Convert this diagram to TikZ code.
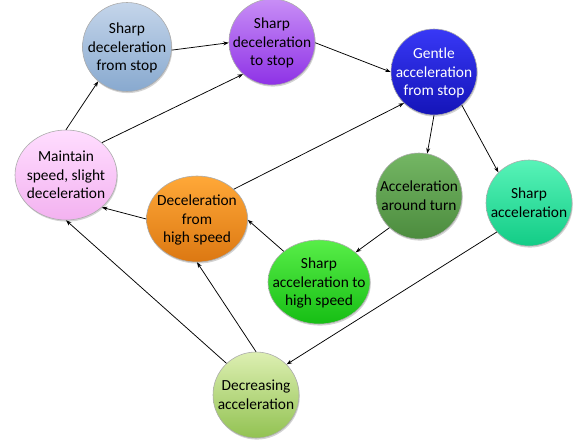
\documentclass[tikz,border=0pt]{standalone}
\usepackage{fontspec}
\setmainfont{Carlito}
\usetikzlibrary{shapes.geometric,arrows.meta,shadows}
\definecolor{sfTop}{HTML}{C4D5EA}\definecolor{sfBot}{HTML}{88A9CF}
\definecolor{stTop}{HTML}{C88EF6}\definecolor{stBot}{HTML}{8E32E6}
\definecolor{gaTop}{HTML}{3838F6}\definecolor{gaBot}{HTML}{1414B8}
\definecolor{msTop}{HTML}{FFDDFF}\definecolor{msBot}{HTML}{F3B2F0}
\definecolor{dhTop}{HTML}{FFA838}\definecolor{dhBot}{HTML}{DC7812}
\definecolor{atTop}{HTML}{74B664}\definecolor{atBot}{HTML}{4C8C3E}
\definecolor{saTop}{HTML}{58F3B8}\definecolor{saBot}{HTML}{12CC86}
\definecolor{shTop}{HTML}{58EE48}\definecolor{shBot}{HTML}{16BE14}
\definecolor{daTop}{HTML}{DDEFB2}\definecolor{daBot}{HTML}{92C252}
\newcommand{\nodetxt}[1]{\smash{\makebox[0pt]{\raisebox{-5pt}{\begin{tabular}[c]{@{}c@{}}#1\end{tabular}}}}}
\tikzset{
  state/.style={ellipse, draw=gray!65, line width=0.6pt, inner sep=0pt,
    font=\fontsize{15.4}{18.5}\selectfont,
    shading=axis, shading angle=0,
    drop shadow={shadow xshift=0.8pt, shadow yshift=-1.6pt, opacity=0.35}},
  conn/.style={-{Stealth[length=5.5pt,width=4pt]}, line width=0.75pt, black}
}
\begin{document}
\begin{tikzpicture}[x=1pt,y=-1pt]
\useasboundingbox (0,0) rectangle (579,442);
\node[state, minimum width=89pt, minimum height=89pt, top color=sfTop, bottom color=sfBot] (sf) at (127,47) {\nodetxt{Sharp\\deceleration\\from stop}};
\node[state, minimum width=86pt, minimum height=86pt, top color=stTop, bottom color=stBot] (st) at (272,42) {\nodetxt{Sharp\\deceleration\\to stop}};
\node[state, minimum width=86pt, minimum height=86pt, top color=gaTop, bottom color=gaBot, text=white] (ga) at (434,72) {\nodetxt{Gentle\\acceleration\\from stop}};
\node[state, minimum width=102pt, minimum height=90pt, top color=msTop, bottom color=msBot] (ms) at (66,175) {\nodetxt{Maintain\\speed, slight\\deceleration}};
\node[state, minimum width=101pt, minimum height=86pt, top color=dhTop, bottom color=dhBot] (dh) at (197,219) {\nodetxt{Deceleration\\from\\high speed}};
\node[state, minimum width=86pt, minimum height=86pt, top color=atTop, bottom color=atBot] (at) at (419,196) {\nodetxt{Acceleration\\around turn}};
\node[state, minimum width=86pt, minimum height=86pt, top color=saTop, bottom color=saBot] (sa) at (529,203) {\nodetxt{Sharp\\acceleration}};
\node[state, minimum width=102pt, minimum height=84pt, top color=shTop, bottom color=shBot] (sh) at (319,282) {\nodetxt{Sharp\\acceleration to\\high speed}};
\node[state, minimum width=86pt, minimum height=86pt, top color=daTop, bottom color=daBot] (da) at (256,395) {\nodetxt{Decreasing\\acceleration}};

\draw[conn] (ms.90) -- (sf.230);
\draw[conn] (ms.42) -- (st.228);
\draw[conn] (sf.-4) -- (st.181);
\draw[conn] (st.-1) -- (ga.180);
\draw[conn] (dh.39) -- (ga.226);
\draw[conn] (ga.-90) -- (at.79);
\draw[conn] (ga.-50) -- (sa.135);
\draw[conn] (at.227) -- (sh.39);
\draw[conn] (sh.139) -- (dh.-1);
\draw[conn] (dh.180) -- (ms.-42);
\draw[conn] (da.133) -- (ms.-90);
\draw[conn] (da.90) -- (dh.-90);
\draw[conn] (sa.222) -- (da.45);
\end{tikzpicture}
\end{document}
